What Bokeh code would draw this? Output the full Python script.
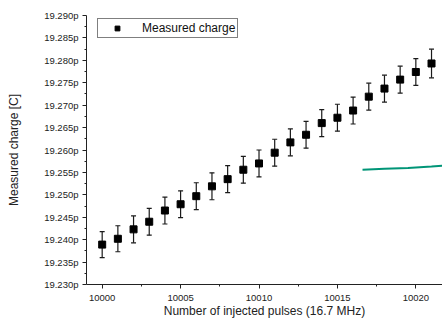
from bokeh.plotting import figure
from bokeh.models import (Range1d, PrintfTickFormatter, FixedTicker, Legend, LegendItem,
                          Whisker, ColumnDataSource, TeeHead)
from bokeh.embed import file_html
from bokeh.resources import INLINE

pulses = [10000, 10001, 10002, 10003, 10004, 10005, 10006, 10007, 10008, 10009, 10010,
          10011, 10012, 10013, 10014, 10015, 10016, 10017, 10018, 10019, 10020, 10021]
charge = [19.2389, 19.2402, 19.2423, 19.2440, 19.2465, 19.2479, 19.2497, 19.2519, 19.2535,
          19.2556, 19.2570, 19.2594, 19.2617, 19.2634, 19.2660, 19.2672, 19.2688, 19.2719,
          19.2737, 19.2757, 19.2774, 19.2793]
err = [0.0029, 0.0029, 0.0030, 0.0030, 0.0030, 0.0030, 0.0030, 0.0030, 0.0030, 0.0030, 0.0030,
       0.0030, 0.0030, 0.0030, 0.0030, 0.0030, 0.0030, 0.0030, 0.0030, 0.0030, 0.0030, 0.0032]
fit_x = [10016.6, 10018.0, 10019.5, 10021.0, 10022.0]
fit_y = [19.2556, 19.2558, 19.2560, 19.2563, 19.2566]

p = figure(width=442, height=324, output_backend="svg", toolbar_location=None,
           x_range=Range1d(9999.0, 10021.7), y_range=Range1d(19.230, 19.290),
           min_border_left=86, min_border_right=0, min_border_top=15, min_border_bottom=40)
p.outline_line_color = None
p.grid.visible = False
p.background_fill_color = "white"

src = ColumnDataSource(dict(x=pulses, y=charge,
                            lo=[c - e for c, e in zip(charge, err)],
                            hi=[c + e for c, e in zip(charge, err)]))
ebc = "#1a1a1a"
wh = Whisker(source=src, base="x", lower="lo", upper="hi", line_color=ebc, line_width=1.2,
             upper_head=TeeHead(size=5, line_color=ebc, line_width=1.2),
             lower_head=TeeHead(size=5, line_color=ebc, line_width=1.2))
p.add_layout(wh)
sq = p.scatter("x", "y", source=src, marker="square", size=7, fill_color="black", line_color="black")

p.line(fit_x, fit_y, line_color="#009577", line_width=2)

for ax in (p.xaxis[0], p.yaxis[0]):
    ax.major_tick_in = 0
    ax.major_tick_out = 4
    ax.minor_tick_in = 0
    ax.minor_tick_out = 2
    ax.axis_line_color = "#222222"
    ax.major_tick_line_color = "#222222"
    ax.minor_tick_line_color = "#222222"
    ax.major_label_text_font = "Liberation Sans"
    ax.major_label_text_font_size = "9.5px"
    ax.major_label_text_color = "#222222"
    ax.axis_label_text_font = "Liberation Sans"
    ax.axis_label_text_font_size = "12px"
    ax.axis_label_text_font_style = "normal"
    ax.axis_label_text_color = "#222222"

p.xaxis.ticker = FixedTicker(ticks=[10000, 10005, 10010, 10015, 10020],
                             minor_ticks=[10002.5, 10007.5, 10012.5, 10017.5])
p.yaxis.ticker = FixedTicker(ticks=[19.230 + 0.005 * i for i in range(13)],
                             minor_ticks=[19.2325 + 0.005 * i for i in range(12)])
p.yaxis.formatter = PrintfTickFormatter(format="%.3fp")
p.xaxis.axis_label = "Number of injected pulses (16.7 MHz)"
p.yaxis.axis_label = "Measured charge [C]"
p.xaxis.major_label_standoff = 6
p.yaxis.major_label_standoff = 4
p.xaxis.axis_label_standoff = 0
p.yaxis.axis_label_standoff = 20

legend = Legend(items=[LegendItem(label="Measured charge", renderers=[sq])],
                location=(11, 246), orientation="vertical")
legend.margin = 0
legend.label_text_font = "Liberation Sans"
legend.label_text_font_size = "12px"
legend.label_text_color = "#111111"
legend.border_line_color = "black"
legend.border_line_width = 1
legend.padding = 2
legend.spacing = 0
legend.glyph_width = 34
legend.glyph_height = 12
legend.label_standoff = 8
legend.label_height = 12
legend.background_fill_alpha = 1
p.add_layout(legend)

open("out.html", "w").write(file_html(p, INLINE))
